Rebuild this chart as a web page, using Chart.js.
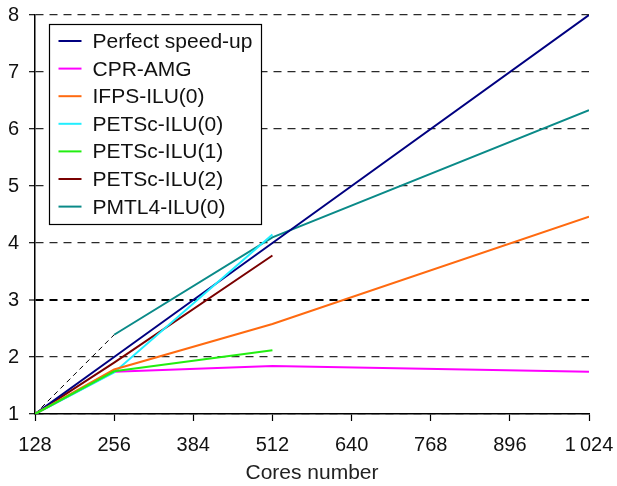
<!DOCTYPE html>
<html>
<head>
<meta charset="utf-8">
<script src="https://cdn.jsdelivr.net/npm/chart.js@4/dist/chart.umd.min.js"></script>
<style>
  html, body { margin: 0; padding: 0; background: #fff; }
  #wrap { width: 617px; height: 486px; position: relative; }
</style>
</head>
<body>
<div id="wrap"><canvas id="c"></canvas></div>
<script>
const cores = [128, 256, 512, 1024];
const xTickLabels = ['128', '256', '384', '512', '640', '768', '896', '1\u2009024'];
const perfect = [1, 2, 4, 8];
const cprAmg = [1, 1.74, 1.84, 1.74];
const ifpsIlu0 = [1, 1.78, 2.58, 4.46];
const petscIlu0 = [1, 1.73, 4.15, null];
const petscIlu1 = [1, 1.75, 2.12, null];
const petscIlu2 = [1, 1.9, 3.78, null];
const pmtl4Ilu0 = [null, 2.39, 4.1, 6.33];
const pmtl4Extrapolation = [1, 2.39, null, null];

const seriesNames = ['Perfect speed-up', 'CPR-AMG', 'IFPS-ILU(0)', 'PETSc-ILU(0)', 'PETSc-ILU(1)', 'PETSc-ILU(2)', 'PMTL4-ILU(0)'];
const seriesData = [perfect, cprAmg, ifpsIlu0, petscIlu0, petscIlu1, petscIlu2, pmtl4Ilu0];
const seriesColors = ['#000080', '#ff00ff', '#ff6a10', '#22eeff', '#22ee11', '#7a0000', '#0a8a88'];
const drawOrder = [3, 6, 1, 2, 0, 4, 5];

const FONT = "'Liberation Sans', Arial, Helvetica, sans-serif";

function toPoints(arr) {
  return cores.map((x, i) => ({ x: x, y: arr[i] }));
}

const datasets = seriesNames.map((name, i) => ({
  label: name,
  data: toPoints(seriesData[i]),
  borderColor: seriesColors[i],
  backgroundColor: seriesColors[i],
  borderWidth: 2,
  pointRadius: 0,
  tension: 0,
  spanGaps: false,
  order: drawOrder[i],
  inLegend: true
}));
datasets.push({
  label: 'extrapolation',
  data: toPoints(pmtl4Extrapolation),
  borderColor: '#000',
  borderWidth: 1,
  borderDash: [5, 4],
  pointRadius: 0,
  tension: 0,
  order: 9,
  inLegend: false
});

const legendPlugin = {
  id: 'boxLegend',
  afterDatasetsDraw(chart) {
    const ctx = chart.ctx;
    const x0 = 49, y0 = 24, w = 212, h = 200;
    ctx.save();
    ctx.fillStyle = '#fff';
    ctx.fillRect(x0, y0, w, h);
    ctx.strokeStyle = '#000';
    ctx.lineWidth = 1.2;
    ctx.strokeRect(x0 + 0.5, y0 + 0.5, w, h);
    ctx.font = '21px ' + FONT;
    ctx.textBaseline = 'middle';
    ctx.textAlign = 'left';
    let row = 0;
    chart.data.datasets.forEach(ds => {
      if (!ds.inLegend) return;
      const yy = 41 + row * 27.6;
      ctx.strokeStyle = ds.borderColor;
      ctx.lineWidth = 2;
      ctx.beginPath();
      ctx.moveTo(58.5, yy);
      ctx.lineTo(81.5, yy);
      ctx.stroke();
      ctx.fillStyle = '#111';
      ctx.fillText(ds.label, 92.5, yy + 1.2);
      row++;
    });
    ctx.restore();
  }
};

new Chart(document.getElementById('c'), {
  type: 'line',
  data: { datasets: datasets },
  options: {
    responsive: true,
    maintainAspectRatio: false,
    animation: false,
    layout: { padding: { top: 15, right: 28, left: 0, bottom: 0 } },
    plugins: { legend: { display: false }, tooltip: { enabled: false } },
    scales: {
      x: {
        type: 'linear',
        min: 128,
        max: 1024,
        afterBuildTicks(scale) {
          scale.ticks = xTickLabels.map((_, i) => ({ value: 128 + 128 * i }));
        },
        afterFit(scale) {
          scale.height = 72;
          scale.paddingLeft = 0;
          scale.paddingRight = 0;
        },
        ticks: {
          color: '#111',
          font: { family: FONT, size: 20 },
          padding: 12,
          maxRotation: 0,
          autoSkip: false,
          callback: (v, i) => xTickLabels[i]
        },
        grid: {
          drawOnChartArea: false,
          drawTicks: true,
          tickLength: 7,
          tickColor: '#000',
          tickWidth: 1.2
        },
        border: { display: true, color: '#000', width: 1.5 },
        title: {
          display: true,
          text: 'Cores number',
          color: '#222',
          font: { family: FONT, size: 21 },
          padding: { top: 2, bottom: 0 }
        }
      },
      y: {
        type: 'linear',
        min: 1,
        max: 8,
        afterFit(scale) {
          scale.width = 35;
          scale.paddingTop = 0;
          scale.paddingBottom = 0;
        },
        ticks: {
          stepSize: 1,
          color: '#111',
          font: { family: FONT, size: 20 },
          padding: 10
        },
        grid: {
          drawOnChartArea: true,
          color: ctx => (ctx.tick && ctx.tick.value === 3) ? '#000' : '#2a2a2a',
          lineWidth: ctx => (ctx.tick && ctx.tick.value === 3) ? 2 : 1.3,
          tickLength: 6,
          tickColor: '#222',
          tickWidth: 1.3,
          tickBorderDash: [6, 0]
        },
        border: { display: true, color: '#000', width: 1.5, dash: [8, 6] }
      }
    }
  },
  plugins: [legendPlugin]
});
</script>
</body>
</html>
